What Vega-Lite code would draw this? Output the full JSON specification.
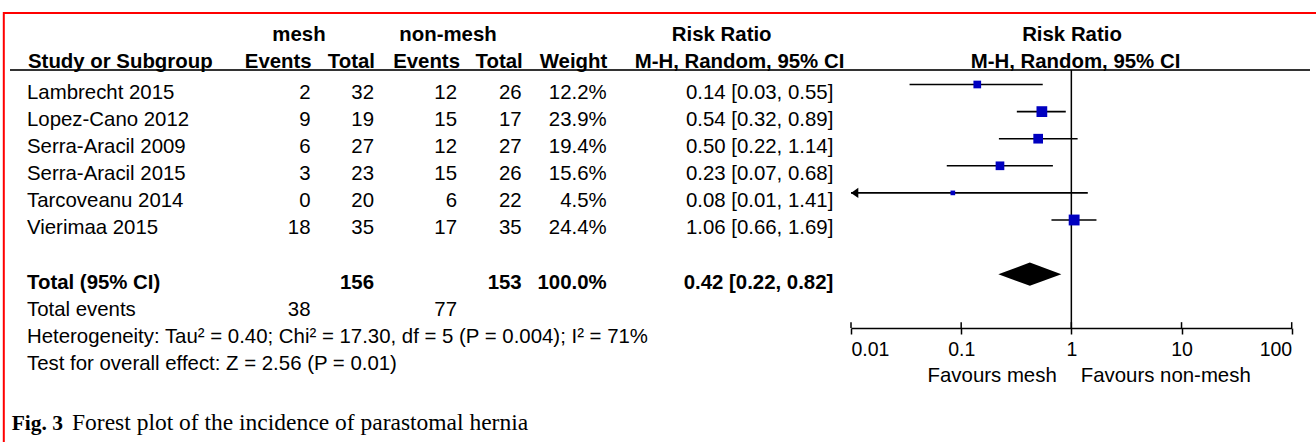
{
  "$schema": "https://vega.github.io/schema/vega-lite/v6.json",
  "width": 1316,
  "height": 442,
  "autosize": {"type": "none"},
  "padding": 0,
  "background": "white",
  "config": {
    "view": {"stroke": null},
    "text": {"font": "Liberation Sans", "fontSize": 20.4, "color": "black", "baseline": "alphabetic"}
  },
  "data": {"values": [{}]},
  "datasets": {
    "studies": [
      {"study": "Lambrecht 2015", "me": 2, "mt": 32, "ne": 12, "nt": 26, "w": 0.122, "ci": "0.14 [0.03, 0.55]", "rr": 0.14, "lo": 0.034, "hi": 0.55, "row": 1},
      {"study": "Lopez-Cano 2012", "me": 9, "mt": 19, "ne": 15, "nt": 17, "w": 0.239, "ci": "0.54 [0.32, 0.89]", "rr": 0.54, "lo": 0.32, "hi": 0.89, "row": 2},
      {"study": "Serra-Aracil 2009", "me": 6, "mt": 27, "ne": 12, "nt": 27, "w": 0.194, "ci": "0.50 [0.22, 1.14]", "rr": 0.5, "lo": 0.22, "hi": 1.14, "row": 3},
      {"study": "Serra-Aracil 2015", "me": 3, "mt": 23, "ne": 15, "nt": 26, "w": 0.156, "ci": "0.23 [0.07, 0.68]", "rr": 0.225, "lo": 0.074, "hi": 0.68, "row": 4},
      {"study": "Tarcoveanu 2014", "me": 0, "mt": 20, "ne": 6, "nt": 22, "w": 0.045, "ci": "0.08 [0.01, 1.41]", "rr": 0.084, "lo": 0.005, "hi": 1.41, "row": 5},
      {"study": "Vierimaa 2015", "me": 18, "mt": 35, "ne": 17, "nt": 35, "w": 0.244, "ci": "1.06 [0.66, 1.69]", "rr": 1.06, "lo": 0.66, "hi": 1.69, "row": 6}
    ],
    "total": [
      {"label": "Total (95% CI)", "mt": 156, "nt": 153, "w": 1.0, "ci": "0.42 [0.22, 0.82]", "rr": 0.42, "lo": 0.22, "hi": 0.82, "row": 8}
    ],
    "events": [
      {"label": "Total events", "me": 38, "ne": 77, "row": 9}
    ],
    "notes": [
      {"label": "Heterogeneity: Tau² = 0.40; Chi² = 17.30, df = 5 (P = 0.004); I² = 71%", "row": 10},
      {"label": "Test for overall effect: Z = 2.56 (P = 0.01)", "row": 11}
    ],
    "ticks": [{"t": 0.01}, {"t": 0.1}, {"t": 1}, {"t": 10}, {"t": 100}]
  },
  "layer": [
    {
      "mark": {"type": "rule", "color": "#ff0000", "strokeWidth": 2},
      "encoding": {"x": {"value": 3}, "x2": {"value": 1316}, "y": {"value": 13}}
    },
    {
      "mark": {"type": "rule", "color": "#ff0000", "strokeWidth": 2},
      "encoding": {"x": {"value": 3.8}, "y": {"value": 12}, "y2": {"value": 442}}
    },
    {
      "data": {"name": "studies"},
      "mark": {"type": "rule", "color": "black", "strokeWidth": 1.6},
      "encoding": {
        "x": {
          "field": "lo", "type": "quantitative",
          "scale": {"type": "log", "domain": [0.01, 100], "range": [851, 1291.7], "clamp": true, "nice": false},
          "axis": {
            "orient": "bottom", "offset": -114, "values": [0.01, 0.1, 1, 10, 100],
            "labelExpr": "'' + datum.value", "labelFlush": true, "title": null, "grid": false,
            "tickSize": 6, "tickWidth": 1.5, "tickColor": "black",
            "domainColor": "black", "domainWidth": 1.5,
            "labelFont": "Liberation Sans", "labelFontSize": 19.5, "labelColor": "black", "labelPadding": 6
          }
        },
        "x2": {"field": "hi"},
        "y": {
          "field": "row", "type": "quantitative",
          "scale": {"domain": [-2.118, 14.192], "range": [0, 442], "nice": false, "zero": false},
          "axis": null
        }
      }
    },
    {
      "mark": {"type": "rule", "color": "#333333", "strokeWidth": 2},
      "encoding": {"x": {"value": 10}, "x2": {"value": 1310}, "y": {"datum": 0.465}}
    },
    {
      "mark": {"type": "rule", "color": "black", "strokeWidth": 1.5},
      "encoding": {"x": {"datum": 1}, "y": {"datum": 0.465}, "y2": {"datum": 9.985}}
    },
    {
      "data": {"name": "ticks"},
      "mark": {"type": "rule", "color": "black", "strokeWidth": 1.5},
      "encoding": {"x": {"field": "t", "type": "quantitative"}, "y": {"datum": 9.77}, "y2": {"datum": 9.985}}
    },
    {
      "data": {"name": "studies"},
      "mark": {"type": "point", "shape": "square", "filled": true, "color": "#0000c0", "opacity": 1, "strokeWidth": 0},
      "encoding": {
        "x": {"field": "rr", "type": "quantitative"},
        "y": {"field": "row", "type": "quantitative"},
        "size": {"field": "w", "type": "quantitative", "scale": {"domain": [0, 0.244], "range": [0, 118]}, "legend": null}
      }
    },
    {
      "data": {"name": "studies"},
      "transform": [{"filter": "datum.lo < 0.01"}],
      "mark": {"type": "point", "shape": "M0,0L1,-0.7L1,0.7Z", "filled": true, "color": "black", "opacity": 1, "strokeWidth": 0, "size": 213},
      "encoding": {
        "x": {"field": "lo", "type": "quantitative"},
        "y": {"field": "row", "type": "quantitative"}
      }
    },
    {
      "data": {"name": "total"},
      "mark": {"type": "point", "shape": "M-1,0L0,-0.37L1,0L0,0.37Z", "filled": true, "color": "black", "opacity": 1, "strokeWidth": 0, "size": 3969},
      "encoding": {
        "x": {"field": "rr", "type": "quantitative"},
        "y": {"field": "row", "type": "quantitative"}
      }
    },
    {
      "data": {"name": "studies"},
      "encoding": {"y": {"field": "row", "type": "quantitative"}},
      "layer": [
        {"mark": {"type": "text", "align": "left", "dy": 14.5}, "encoding": {"x": {"value": 27}, "text": {"field": "study"}}},
        {"mark": {"type": "text", "align": "right", "dy": 14.5}, "encoding": {"x": {"value": 310.5}, "text": {"field": "me"}}},
        {"mark": {"type": "text", "align": "right", "dy": 14.5}, "encoding": {"x": {"value": 374}, "text": {"field": "mt"}}},
        {"mark": {"type": "text", "align": "right", "dy": 14.5}, "encoding": {"x": {"value": 457}, "text": {"field": "ne"}}},
        {"mark": {"type": "text", "align": "right", "dy": 14.5}, "encoding": {"x": {"value": 521.7}, "text": {"field": "nt"}}},
        {"mark": {"type": "text", "align": "right", "dy": 14.5}, "encoding": {"x": {"value": 606.7}, "text": {"field": "w", "format": ".1%"}}},
        {"mark": {"type": "text", "align": "right", "dy": 14.5}, "encoding": {"x": {"value": 833.3}, "text": {"field": "ci"}}}
      ]
    },
    {
      "data": {"name": "total"},
      "encoding": {"y": {"field": "row", "type": "quantitative"}},
      "layer": [
        {"mark": {"type": "text", "align": "left", "dy": 14.5, "fontWeight": "bold"}, "encoding": {"x": {"value": 27}, "text": {"field": "label"}}},
        {"mark": {"type": "text", "align": "right", "dy": 14.5, "fontWeight": "bold"}, "encoding": {"x": {"value": 374}, "text": {"field": "mt"}}},
        {"mark": {"type": "text", "align": "right", "dy": 14.5, "fontWeight": "bold"}, "encoding": {"x": {"value": 521.7}, "text": {"field": "nt"}}},
        {"mark": {"type": "text", "align": "right", "dy": 14.5, "fontWeight": "bold"}, "encoding": {"x": {"value": 606.7}, "text": {"field": "w", "format": ".1%"}}},
        {"mark": {"type": "text", "align": "right", "dy": 14.5, "fontWeight": "bold"}, "encoding": {"x": {"value": 833.3}, "text": {"field": "ci"}}}
      ]
    },
    {
      "data": {"name": "events"},
      "encoding": {"y": {"field": "row", "type": "quantitative"}},
      "layer": [
        {"mark": {"type": "text", "align": "left", "dy": 14.5}, "encoding": {"x": {"value": 27}, "text": {"field": "label"}}},
        {"mark": {"type": "text", "align": "right", "dy": 14.5}, "encoding": {"x": {"value": 310.5}, "text": {"field": "me"}}},
        {"mark": {"type": "text", "align": "right", "dy": 14.5}, "encoding": {"x": {"value": 457}, "text": {"field": "ne"}}}
      ]
    },
    {
      "data": {"name": "notes"},
      "mark": {"type": "text", "align": "left", "dy": 14.5},
      "encoding": {"x": {"value": 27}, "y": {"field": "row", "type": "quantitative"}, "text": {"field": "label"}}
    },
    {"mark": {"type": "text", "text": "mesh", "align": "center", "dy": 11, "fontWeight": "bold"}, "encoding": {"x": {"value": 299}, "y": {"datum": -1}}},
    {"mark": {"type": "text", "text": "non-mesh", "align": "center", "dy": 11, "fontWeight": "bold"}, "encoding": {"x": {"value": 448}, "y": {"datum": -1}}},
    {"mark": {"type": "text", "text": "Risk Ratio", "align": "center", "dy": 11, "fontWeight": "bold"}, "encoding": {"x": {"value": 721.7}, "y": {"datum": -1}}},
    {"mark": {"type": "text", "text": "Risk Ratio", "align": "center", "dy": 11, "fontWeight": "bold"}, "encoding": {"x": {"value": 1072}, "y": {"datum": -1}}},
    {"mark": {"type": "text", "text": "Study or Subgroup", "align": "left", "dy": 11, "fontWeight": "bold"}, "encoding": {"x": {"value": 28}, "y": {"datum": 0}}},
    {"mark": {"type": "text", "text": "Events", "align": "right", "dy": 11, "fontWeight": "bold"}, "encoding": {"x": {"value": 311.7}, "y": {"datum": 0}}},
    {"mark": {"type": "text", "text": "Total", "align": "right", "dy": 11, "fontWeight": "bold"}, "encoding": {"x": {"value": 375}, "y": {"datum": 0}}},
    {"mark": {"type": "text", "text": "Events", "align": "right", "dy": 11, "fontWeight": "bold"}, "encoding": {"x": {"value": 460}, "y": {"datum": 0}}},
    {"mark": {"type": "text", "text": "Total", "align": "right", "dy": 11, "fontWeight": "bold"}, "encoding": {"x": {"value": 522.7}, "y": {"datum": 0}}},
    {"mark": {"type": "text", "text": "Weight", "align": "right", "dy": 11, "fontWeight": "bold"}, "encoding": {"x": {"value": 607.3}, "y": {"datum": 0}}},
    {"mark": {"type": "text", "text": "M-H, Random, 95% CI", "align": "center", "dy": 11, "fontWeight": "bold"}, "encoding": {"x": {"value": 739.5}, "y": {"datum": 0}}},
    {"mark": {"type": "text", "text": "M-H, Random, 95% CI", "align": "center", "dy": 11, "fontWeight": "bold"}, "encoding": {"x": {"value": 1075.5}, "y": {"datum": 0}}},
    {"mark": {"type": "text", "text": "Favours mesh", "align": "right", "dx": -14.6, "dy": -1}, "encoding": {"x": {"datum": 1}, "y": {"datum": 12}}},
    {"mark": {"type": "text", "text": "Favours non-mesh", "align": "left", "dx": 9.4, "dy": -1}, "encoding": {"x": {"datum": 1}, "y": {"datum": 12}}},
    {"mark": {"type": "text", "text": "Fig. 3", "align": "left", "font": "Liberation Serif", "fontSize": 21.5, "fontWeight": "bold"}, "encoding": {"x": {"value": 11.7}, "y": {"datum": 13.75}}},
    {"mark": {"type": "text", "text": "Forest plot of the incidence of parastomal hernia", "align": "left", "font": "Liberation Serif", "fontSize": 23.5}, "encoding": {"x": {"value": 72}, "y": {"datum": 13.75}}}
  ]
}
